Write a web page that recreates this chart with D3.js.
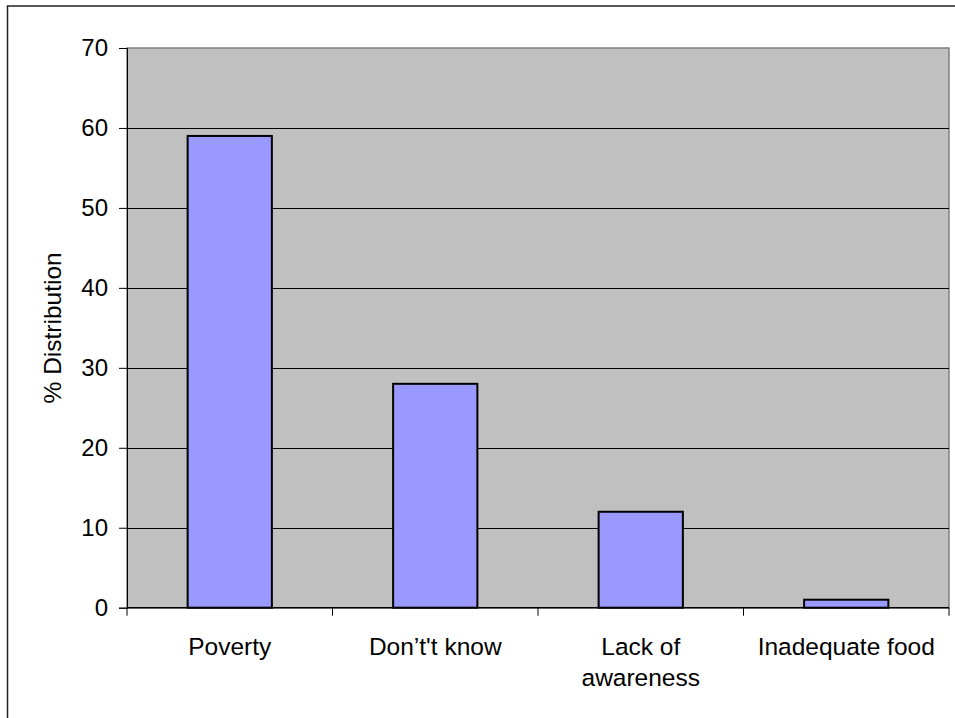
<!DOCTYPE html>
<html>
<head>
<meta charset="utf-8">
<script src="https://cdn.jsdelivr.net/npm/d3@7"></script>
<style>
  html, body { margin: 0; padding: 0; background: #fff; }
  svg { display: block; }
  text { font-family: "Liberation Sans", Arial, sans-serif; fill: #000; }
</style>
</head>
<body>
<svg id="chart" width="955" height="718"></svg>
<script>
const categories = ["Poverty", "Don\u2019t't know", "Lack of awareness", "Inadequate food"];
const values = [59, 28, 12, 1];
const yTicks = [0, 10, 20, 30, 40, 50, 60, 70];
const yLabel = "% Distribution";

const plot = { left: 127, right: 949, top: 48, bottom: 607.7 };
const svg = d3.select("#chart");

// outer chart border (extends beyond the captured window on right/bottom)
svg.append("rect")
  .attr("x", 7.5).attr("y", 6).attr("width", 1000).attr("height", 1000)
  .attr("fill", "#fff").attr("stroke", "#222").attr("stroke-width", 1.5);

const x = d3.scaleBand().domain(categories)
  .range([plot.left, plot.right]).paddingInner(0.59).paddingOuter(0.295);
const y = d3.scaleLinear().domain([0, 70]).range([plot.bottom, plot.top]);

// plot area background
svg.append("rect")
  .attr("x", plot.left).attr("y", plot.top)
  .attr("width", plot.right - plot.left).attr("height", plot.bottom - plot.top)
  .attr("fill", "#C0C0C0").attr("stroke", "#808080").attr("stroke-width", 1.5);

// gridlines
svg.append("g").selectAll("line")
  .data(yTicks.filter(d => d > 0 && d < 70)).join("line")
  .attr("x1", plot.left).attr("x2", plot.right)
  .attr("y1", d => Math.round(y(d)) + 0.5).attr("y2", d => Math.round(y(d)) + 0.5)
  .attr("stroke", "#000").attr("stroke-width", 1);

// bars
svg.append("g").selectAll("rect")
  .data(values).join("rect")
  .attr("x", (d, i) => x(categories[i]))
  .attr("y", d => y(d))
  .attr("width", x.bandwidth())
  .attr("height", d => y(0) - y(d))
  .attr("fill", "#9999FF").attr("stroke", "#000").attr("stroke-width", 2);

// y axis
const yAxis = d3.axisLeft(y).tickValues(yTicks).tickSize(8).tickPadding(11).tickFormat(d3.format("d"));
const gy = svg.append("g").attr("transform", `translate(${plot.left},0)`).call(yAxis);
gy.select(".domain").attr("stroke", "#000").attr("stroke-width", 1);
gy.selectAll(".tick line").attr("stroke", "#000");
gy.selectAll(".tick text").attr("font-size", 24).attr("font-family", "Liberation Sans, Arial, sans-serif").attr("fill", "#000");

// x axis line and boundary ticks
const edges = [plot.left].concat(categories.slice(1).map(c => x(c) - (x.step() - x.bandwidth()) / 2), [plot.right]);
svg.append("line")
  .attr("x1", plot.left).attr("x2", plot.right)
  .attr("y1", plot.bottom).attr("y2", plot.bottom)
  .attr("stroke", "#000").attr("stroke-width", 1.5);
svg.append("g").selectAll("line").data(edges).join("line")
  .attr("x1", d => d).attr("x2", d => d)
  .attr("y1", plot.bottom).attr("y2", plot.bottom + 8)
  .attr("stroke", "#000").attr("stroke-width", 1);

// x labels with wrapping
const maxW = 190;
const labelG = svg.append("g");
categories.forEach(c => {
  const cx = x(c) + x.bandwidth() / 2;
  const t = labelG.append("text").attr("x", cx).attr("y", 655)
    .attr("text-anchor", "middle").attr("font-size", 24.5);
  const words = c.split(" ");
  let line = [], lines = [];
  const probe = t.append("tspan");
  words.forEach(w => {
    const test = line.concat([w]).join(" ");
    probe.text(test);
    if (probe.node().getComputedTextLength() > maxW && line.length) {
      lines.push(line.join(" "));
      line = [w];
    } else line.push(w);
  });
  lines.push(line.join(" "));
  probe.remove();
  lines.forEach((l, i) => {
    t.append("tspan").attr("x", cx).attr("y", 655 + i * 31).text(l);
  });
});

// y label
svg.append("text")
  .attr("transform", `translate(61,${(plot.top + plot.bottom) / 2}) rotate(-90)`)
  .attr("text-anchor", "middle").attr("font-size", 24.5).text(yLabel);
</script>
</body>
</html>
